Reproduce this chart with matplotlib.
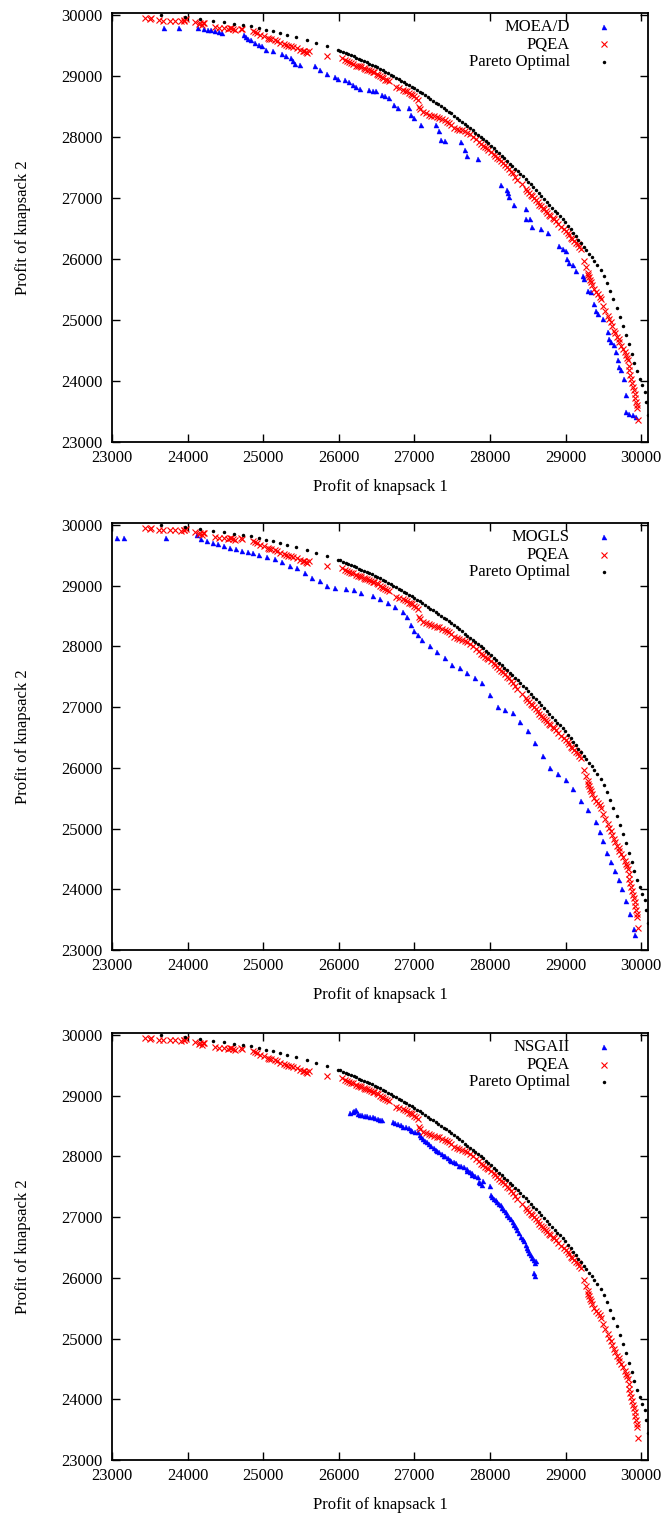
import matplotlib
matplotlib.use('Agg')
import matplotlib.pyplot as plt

# ---------------- data ----------------
pareto_x = [23650, 23970, 24165, 24340, 24485, 24615, 24735, 24835, 24940, 25035,
            25130, 25225, 25320, 25440, 25585, 25705, 25850, 25990,
            26020, 26055, 26090, 26125, 26160, 26195, 26230, 26265, 26300, 26335,
            26370, 26405, 26440, 26475, 26510, 26545, 26580, 26615, 26650, 26685,
            26720, 26755, 26790, 26825, 26860, 26895, 26930, 26965, 27000, 27035,
            27070, 27105, 27140, 27175, 27210, 27245, 27280, 27315, 27350, 27385,
            27420, 27455, 27490, 27525, 27560, 27595, 27630, 27665, 27700, 27735,
            27770, 27805, 27840, 27875, 27910, 27945, 27980, 28015, 28050, 28085,
            28120, 28155, 28190, 28225, 28260, 28295, 28330, 28365, 28400, 28435,
            28470, 28505, 28540, 28575, 28610, 28645, 28680, 28715, 28750, 28785,
            28820, 28855, 28890, 28925, 28960, 28995, 29030, 29065, 29100, 29135,
            29170, 29205, 29240, 29275, 29310, 29345, 29380,
            29420, 29462, 29505, 29548, 29590, 29632, 29675, 29718, 29760, 29800,
            29838, 29875, 29910, 29945, 29980, 30015, 30050, 30070, 30085]
pareto_y = [30005, 29972, 29935, 29902, 29875, 29853, 29836, 29810, 29782, 29755,
            29728, 29700, 29668, 29629, 29580, 29537, 29482, 29428,
            29414, 29395, 29376, 29356, 29337, 29318, 29299, 29279, 29260, 29241,
            29222, 29202, 29183, 29164, 29143, 29119, 29094, 29070, 29045, 29021,
            28996, 28972, 28947, 28923, 28898, 28874, 28849, 28825, 28800, 28770,
            28741, 28711, 28681, 28651, 28622, 28592, 28562, 28532, 28503, 28473,
            28443, 28413, 28384, 28350, 28315, 28280, 28245, 28210, 28175, 28140,
            28105, 28070, 28035, 28000, 27965, 27930, 27895, 27857, 27815, 27773,
            27731, 27689, 27647, 27605, 27563, 27521, 27479, 27437, 27395, 27353,
            27311, 27268, 27221, 27173, 27125, 27078, 27030, 26983, 26935, 26887,
            26840, 26792, 26745, 26697, 26649, 26602, 26545, 26488, 26430, 26372,
            26314, 26257, 26199, 26141, 26083, 26026, 25968,
            25900, 25815, 25715, 25600, 25475, 25340, 25200, 25055, 24905, 24755,
            24600, 24450, 24300, 24160, 24030, 23930, 23820, 23660, 23440]

pqea_x = [23431, 23503, 23622, 23670, 23766, 23838, 23910, 23957, 23981, 24101,
          24149, 24197, 24221, 24364, 24412, 24484, 24532, 24580, 24628, 24724,
          24867, 24915, 24963, 25010, 25058, 25106, 25178, 25226, 25274, 25322,
          25370, 25441, 25489, 25537, 25585, 25609, 25848, 26040, 26088, 26135,
          26183, 26231, 26279, 26327, 26375, 26423, 26471, 26518, 26566, 26614,
          26662, 26758, 26854, 26902, 26949, 26997, 27045, 27055, 27117, 27189,
          27260, 27332, 27404, 27452, 27524, 27596, 27667, 27739, 27811, 27883,
          27931, 27979, 28050, 28098, 28146, 28194, 28250, 28300, 28363, 28473,
          28518, 28562, 28606, 28650, 28695, 28739, 28783, 28827, 28872, 28982,
          29027, 29071, 29115, 29159, 29204, 29248, 29292, 29314, 29336, 29381,
          29425, 29469, 29491, 29558, 29602, 29646, 29681, 29712, 29757, 29801,
          29823, 29845, 29867, 29889, 29912, 29934, 29947, 29956,
          23520, 23950, 24160, 24200, 24560, 24600, 24700,
          24890, 25080, 25150, 25300, 25400, 25520, 25560,
          26110, 26160, 26250, 26300, 26350, 26400, 26450, 26500, 26540, 26590, 26640,
          26800, 26880, 26930, 26970, 27020, 27080,
          27150, 27220, 27300, 27370, 27430, 27480, 27560, 27630, 27700, 27770,
          27850, 27910, 27960, 28010, 28070, 28120, 28170, 28220, 28280, 28330,
          28420, 28490, 28540, 28580, 28630, 28670, 28720, 28760, 28800, 28850,
          28900, 28940, 29000, 29050, 29090, 29140, 29180,
          29270, 29300, 29320, 29350, 29400, 29450, 29520, 29580, 29620, 29660,
          29700, 29735, 29780, 29810, 29835, 29855, 29878, 29900, 29922, 29940]
pqea_y = [29946, 29929, 29918, 29907, 29907, 29907, 29891, 29907, 29929, 29875,
          29853, 29837, 29864, 29798, 29782, 29782, 29766, 29782, 29755, 29766,
          29728, 29700, 29673, 29646, 29619, 29602, 29564, 29537, 29526, 29493,
          29482, 29455, 29428, 29401, 29373, 29401, 29319, 29292, 29253, 29221,
          29199, 29166, 29155, 29128, 29101, 29074, 29057, 29019, 28981, 28937,
          28910, 28817, 28774, 28747, 28708, 28665, 28610, 28490, 28403, 28365,
          28338, 28311, 28272, 28229, 28147, 28120, 28093, 28040, 27960, 27880,
          27830, 27790, 27720, 27660, 27600, 27540, 27470, 27400, 27299, 27147,
          27082, 27027, 26973, 26891, 26837, 26783, 26728, 26674, 26620, 26484,
          26429, 26348, 26293, 26239, 26158, 25967, 25777, 25696, 25614, 25505,
          25424, 25342, 25234, 25071, 24962, 24826, 24717, 24636, 24527, 24418,
          24337, 24174, 24038, 23902, 23793, 23658, 23549, 23359,
          29940, 29920, 29860, 29870, 29790, 29770, 29775,
          29715, 29610, 29580, 29510, 29470, 29410, 29390,
          29240, 29210, 29165, 29140, 29115, 29090, 29065, 29035, 29000, 28960, 28925,
          28800, 28760, 28720, 28690, 28640, 28450,
          28390, 28350, 28325, 28290, 28250, 28200, 28135, 28105, 28070, 28000,
          27920, 27850, 27810, 27760, 27690, 27630, 27570, 27500, 27430, 27350,
          27220, 27110, 27050, 27000, 26930, 26860, 26810, 26750, 26700, 26650,
          26580, 26530, 26450, 26390, 26320, 26265, 26200,
          25870, 25740, 25650, 25570, 25460, 25380, 25150, 25010, 24900, 24780,
          24680, 24580, 24470, 24380, 24250, 24100, 23970, 23850, 23720, 23600]

moead_x = [23685, 23886, 24135, 24221, 24269, 24316, 24364, 24412, 24460, 24747,
           24771, 24795, 24843, 24891, 24939, 24987, 25034, 25130, 25250, 25298,
           25370, 25394, 25418, 25489, 25681, 25752, 25848, 25944, 25992, 26088,
           26135, 26183, 26231, 26279, 26399, 26447, 26495, 26566, 26614, 26662,
           26734, 26782, 26925, 26949, 26997, 27093, 27285, 27332, 27356, 27404,
           27619, 27667, 27691, 27835, 28142, 28230, 28239, 28252, 28319, 28473,
           28473, 28527, 28562, 28673, 28761, 28916, 28960, 29004, 29013, 29049,
           29093, 29137, 29226, 29239, 29292, 29336, 29381, 29403, 29425, 29491,
           29558, 29580, 29602, 29646, 29668, 29690, 29712, 29735, 29770, 29801,
           29801, 29845, 29889, 29934]
moead_y = [29782, 29782, 29782, 29766, 29755, 29744, 29728, 29711, 29700, 29673,
           29635, 29602, 29580, 29537, 29510, 29482, 29428, 29401, 29362, 29330,
           29292, 29237, 29199, 29183, 29155, 29101, 29035, 28981, 28948, 28926,
           28894, 28856, 28817, 28785, 28763, 28747, 28747, 28692, 28665, 28638,
           28529, 28474, 28474, 28365, 28311, 28202, 28202, 28093, 27956, 27929,
           27913, 27793, 27684, 27640, 27217, 27136, 27082, 27016, 26891, 26821,
           26658, 26658, 26527, 26484, 26429, 26212, 26158, 26130, 25995, 25940,
           25897, 25804, 25723, 25679, 25478, 25451, 25261, 25152, 25098, 25016,
           24799, 24690, 24636, 24582, 24473, 24337, 24228, 24174, 24038, 23777,
           23495, 23467, 23440, 23413]

mogls_x = [23070, 23160, 23710, 24120, 24180, 24260, 24330, 24400, 24480, 24560,
           24640, 24720, 24800, 24870, 24950, 25050, 25150, 25250, 25350, 25450,
           25550, 25650, 25750, 25850, 25950, 26100, 26200, 26300, 26450, 26550,
           26650, 26750, 26850, 26900, 26950, 27000, 27050, 27100, 27200, 27300,
           27400, 27500, 27600, 27700, 27800, 27900, 28000, 28100, 28200, 28300,
           28400, 28500, 28600, 28700, 28800, 28900, 29000, 29100, 29200, 29300,
           29400, 29450, 29500, 29550, 29600, 29650, 29700, 29750, 29800, 29850,
           29900, 29920]
mogls_y = [29790, 29790, 29790, 29830, 29760, 29730, 29700, 29680, 29650, 29620,
           29600, 29570, 29550, 29530, 29500, 29470, 29440, 29380, 29330, 29290,
           29200, 29130, 29080, 29000, 28960, 28940, 28920, 28880, 28820, 28780,
           28720, 28640, 28560, 28480, 28350, 28250, 28180, 28100, 28000, 27900,
           27800, 27700, 27640, 27560, 27480, 27400, 27200, 27000, 26950, 26900,
           26750, 26600, 26400, 26200, 26000, 25900, 25800, 25650, 25450, 25300,
           25100, 24950, 24800, 24600, 24450, 24300, 24150, 24000, 23800, 23600,
           23350, 23250]

nsga_x = [26145, 26183, 26231, 26255, 26303, 26375, 26447, 26518, 26566, 26719,
          26782, 26854, 26925, 26973, 27045, 27093, 27141, 27189, 27260, 27301,
          27332, 27389, 27404, 27476, 27478, 27548, 27588, 27619, 27691, 27699,
          27763, 27765, 27835, 27854, 27898, 27907, 28000, 28009, 28053, 28097,
          28142, 28186, 28230, 28274, 28319, 28363, 28407, 28451, 28487, 28518,
          28562, 28606, 28584, 28597,
          26200, 26280, 26340, 26410, 26480, 26540, 26750, 26820, 26890, 26950,
          27010, 27070, 27120, 27165, 27220, 27290, 27360, 27440, 27520, 27650,
          27730, 27800, 27870, 28030, 28075, 28120, 28165, 28210, 28250, 28300,
          28340, 28385, 28430, 28470, 28500, 28540, 28580, 28600]
nsga_y = [28708, 28730, 28763, 28692, 28676, 28665, 28649, 28610, 28594, 28572,
          28529, 28490, 28458, 28420, 28392, 28311, 28256, 28202, 28131, 28092,
          28065, 28011, 28011, 27946, 27929, 27891, 27848, 27847, 27793, 27766,
          27728, 27685, 27657, 27576, 27533, 27586, 27511, 27359, 27304, 27250,
          27196, 27114, 27033, 26967, 26870, 26788, 26679, 26598, 26489, 26408,
          26326, 26272, 26082, 26027,
          28740, 28685, 28670, 28655, 28630, 28600, 28550, 28510, 28475, 28440,
          28405, 28350, 28280, 28230, 28170, 28110, 28040, 27975, 27910, 27820,
          27745, 27670, 27560, 27330, 27280, 27220, 27150, 27075, 27000, 26920,
          26830, 26730, 26640, 26540, 26450, 26370, 26300, 26250]

algo_names = ["MOEA/D", "MOGLS", "NSGAII"]
algo_x = [moead_x, mogls_x, nsga_x]
algo_y = [moead_y, mogls_y, nsga_y]
ticks = [23000, 24000, 25000, 26000, 27000, 28000, 29000, 30000]

# ---------------- figure ----------------
plt.rcParams['font.family'] = ['Liberation Serif', 'DejaVu Serif']
plt.rcParams['font.size'] = 12

W, H = 666, 1520
fig = plt.figure(figsize=(W / 100, H / 100), dpi=100)
left_px, right_px = 112, 648
panels_px = [(13, 442), (523, 950), (1033, 1460)]

BLUE = '#0000ff'
RED = '#ff0000'
PARETO_MS = 2.5

for i, (top, bot) in enumerate(panels_px):
    hpx = bot - top
    ax = fig.add_axes([left_px / W, 1 - bot / H, (right_px - left_px) / W, hpx / H])
    ax.plot(algo_x[i], algo_y[i], linestyle='none', marker='^', ms=3.6,
            color=BLUE, mec=BLUE, mew=0.3, zorder=3)
    ax.plot(pqea_x, pqea_y, linestyle='none', marker='x', ms=4.6,
            color=RED, mew=0.8, zorder=4)
    ax.plot(pareto_x, pareto_y, linestyle='none', marker='o', ms=PARETO_MS,
            color='black', mew=0, zorder=5)
    ax.set_xlim(23000, 30090)
    ax.set_ylim(23000, 30030)
    ax.set_xticks(ticks)
    ax.set_yticks(ticks)
    ax.tick_params(direction='in', length=6, width=1.0, top=True, right=True,
                   labelsize=12)
    ax.tick_params(axis='x', pad=6)
    ax.tick_params(axis='y', pad=7)
    for s in ax.spines.values():
        s.set_linewidth(1.3)
    ax.set_xlabel('Profit of knapsack 1', fontsize=12)
    ax.set_ylabel('Profit of knapsack 2', fontsize=12)
    ax.xaxis.set_label_coords(0.5, -45 / hpx)
    ax.xaxis.label.set_va('center')
    ax.yaxis.set_label_coords(-(left_px - 23) / (right_px - left_px), 0.5)
    ax.yaxis.label.set_va('center')

    # legend (gnuplot style: right-aligned text, marker to the right)
    rows = [(algo_names[i], '^', BLUE, 3.6, 0.3),
            ('PQEA', 'x', RED, 4.6, 0.8),
            ('Pareto Optimal', 'o', 'black', PARETO_MS, 0)]
    for r, (lab, mk, col, ms, mw) in enumerate(rows):
        yy = 1 - (14 + 17.5 * r) / hpx
        ax.text(0.8545, yy, lab, transform=ax.transAxes, ha='right', va='center',
                fontsize=12)
        ax.plot([0.918], [yy], transform=ax.transAxes, linestyle='none', marker=mk,
                ms=ms, color=col, mew=mw, clip_on=False)

fig.savefig('out.png', dpi=100)
